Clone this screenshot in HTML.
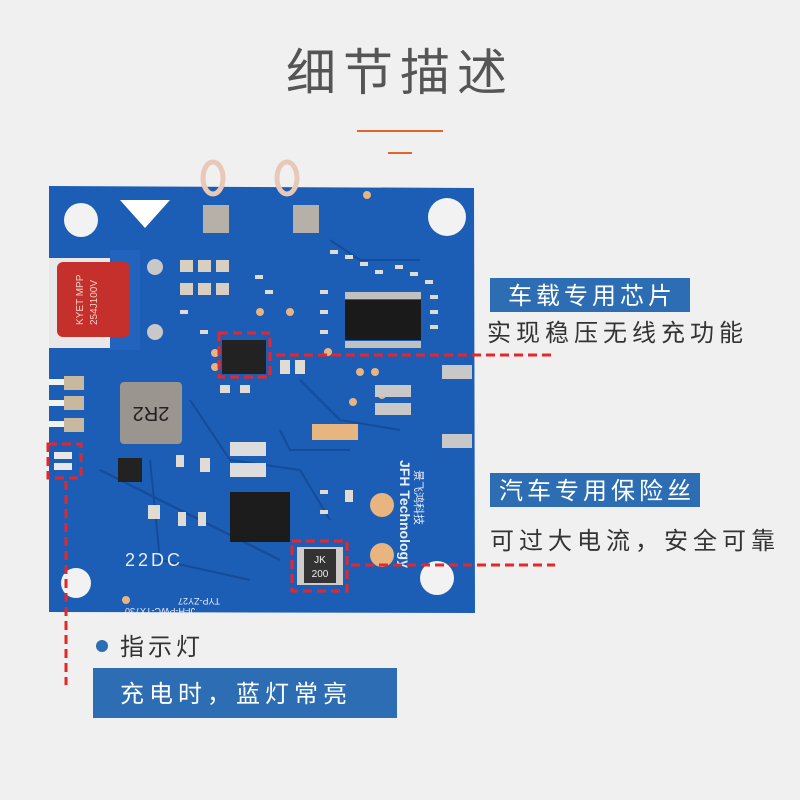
<!DOCTYPE html>
<html><head><meta charset="utf-8"><style>
body{margin:0;width:800px;height:800px;background:#f0f0f0;overflow:hidden;font-family:"Liberation Sans","Noto Sans CJK SC",sans-serif;}
svg{position:absolute;left:0;top:0}
</style></head><body>
<svg width="800" height="800" viewBox="0 0 800 800" xmlns="http://www.w3.org/2000/svg">
<rect width="800" height="800" fill="#f0f0f0"/>
<text x="400" y="90" text-anchor="middle" font-size="50" fill="#555" font-family="Noto Sans CJK SC, sans-serif" letter-spacing="7">细节描述</text>
<rect x="357" y="130" width="86" height="2" fill="#e0642c"/>
<rect x="388" y="152" width="24" height="2" fill="#e0642c"/>
<!-- board -->
<path d="M49 186 L474 188 L475 613 L49 612 L49 348 L138 348 L138 258 L49 258 Z" fill="#1c5db5"/>
<rect x="49" y="258" width="89" height="90" fill="#e8e8e8"/>
<rect x="110" y="250" width="30" height="100" fill="#2263bd"/>
<g stroke="#154c9a" stroke-width="2" fill="none">
<path d="M190 400 L230 460 L300 470 L330 520"/><path d="M300 380 L340 420 L400 430"/>
<path d="M330 240 L360 260 L420 260"/><path d="M100 470 L200 520 L280 560"/>
<path d="M280 430 L290 450 L350 450"/><path d="M150 460 L160 560 L250 580"/>
</g>
<!-- small components texture -->
<g fill="#e0dcd4">
<rect x="330" y="250" width="8" height="4"/><rect x="345" y="255" width="8" height="4"/><rect x="360" y="262" width="8" height="4"/><rect x="375" y="270" width="8" height="4"/><rect x="395" y="265" width="8" height="4"/><rect x="410" y="272" width="8" height="4"/><rect x="425" y="280" width="8" height="4"/><rect x="430" y="295" width="8" height="4"/><rect x="430" y="310" width="8" height="4"/><rect x="430" y="325" width="8" height="4"/><rect x="320" y="290" width="8" height="4"/><rect x="320" y="310" width="8" height="4"/><rect x="320" y="330" width="8" height="4"/>
<rect x="255" y="275" width="8" height="4"/><rect x="265" y="290" width="8" height="4"/><rect x="200" y="330" width="8" height="4"/><rect x="180" y="310" width="8" height="4"/>
<rect x="280" y="360" width="10" height="14"/><rect x="295" y="360" width="10" height="14"/><rect x="220" y="385" width="10" height="8"/><rect x="240" y="385" width="10" height="8"/>
<rect x="176" y="455" width="8" height="12"/><rect x="200" y="458" width="10" height="14"/><rect x="148" y="505" width="12" height="14"/><rect x="178" y="512" width="8" height="14"/><rect x="198" y="512" width="8" height="14"/>
<rect x="320" y="490" width="8" height="4"/><rect x="320" y="510" width="8" height="4"/><rect x="345" y="490" width="8" height="12"/>
</g>
<g fill="#e8b480"><circle cx="260" cy="312" r="4"/><circle cx="290" cy="312" r="4"/><circle cx="328" cy="352" r="4"/><circle cx="360" cy="372" r="4"/><circle cx="375" cy="372" r="4"/><circle cx="353" cy="402" r="4"/><circle cx="382" cy="395" r="4"/><circle cx="215" cy="353" r="4"/><circle cx="215" cy="367" r="4"/><circle cx="126" cy="600" r="4"/><circle cx="367" cy="195" r="4"/></g>
<!-- holes -->
<circle cx="81" cy="220" r="17" fill="#f2f2f2"/><circle cx="447" cy="217" r="19" fill="#f2f2f2"/>
<circle cx="76" cy="583" r="15" fill="#f2f2f2"/><circle cx="437" cy="578" r="17" fill="#f2f2f2"/>
<path d="M120 200 L170 200 L145 228 Z" fill="#fff"/>
<ellipse cx="213" cy="178" rx="10" ry="16" fill="none" stroke="#e8c8b8" stroke-width="5"/>
<ellipse cx="287" cy="178" rx="10" ry="16" fill="none" stroke="#e8c8b8" stroke-width="5"/>
<rect x="203" y="205" width="26" height="28" fill="#b5b0a8"/><rect x="293" y="205" width="26" height="28" fill="#b5b0a8"/>
<rect x="57" y="262" width="73" height="75" rx="6" fill="#c5302c"/>
<text x="0" y="0" transform="translate(83 325) rotate(-90)" font-size="10" fill="#f5d0c8">KYET MPP</text>
<text x="0" y="0" transform="translate(97 325) rotate(-90)" font-size="10" fill="#f5d0c8">254J100V</text>
<circle cx="155" cy="267" r="8" fill="#c8c8c8"/><circle cx="155" cy="332" r="8" fill="#c8c8c8"/>
<g fill="#d8cfc0"><rect x="180" y="260" width="13" height="12"/><rect x="198" y="260" width="13" height="12"/><rect x="216" y="260" width="13" height="12"/>
<rect x="180" y="283" width="13" height="12"/><rect x="198" y="283" width="13" height="12"/><rect x="216" y="283" width="13" height="12"/></g>
<rect x="345" y="300" width="76" height="40" fill="#1a1a1a"/>
<g fill="#c0c0c0"><rect x="345" y="292" width="76" height="7"/><rect x="345" y="341" width="76" height="7"/></g>
<rect x="222" y="340" width="44" height="34" fill="#222"/>
<rect x="120" y="382" width="62" height="62" rx="4" fill="#9a958e"/>
<text x="151" y="421" text-anchor="middle" font-size="20" fill="#222" transform="rotate(180 151 414)">2R2</text>
<g fill="#c9b8a0"><rect x="64" y="376" width="20" height="14"/><rect x="64" y="396" width="20" height="14"/><rect x="64" y="418" width="20" height="14"/></g>
<g fill="#f2f2f2"><rect x="49" y="379" width="15" height="6"/><rect x="49" y="400" width="15" height="6"/><rect x="49" y="421" width="15" height="6"/></g>
<rect x="54" y="452" width="18" height="7" fill="#e8e8e8"/><rect x="54" y="463" width="18" height="7" fill="#e8e8e8"/>
<rect x="118" y="458" width="24" height="24" fill="#222"/>
<rect x="230" y="492" width="60" height="50" fill="#1c1c1c"/>
<rect x="230" y="442" width="36" height="14" fill="#ddd"/><rect x="230" y="463" width="36" height="14" fill="#ddd"/>
<g fill="#e8b480"><rect x="312" y="424" width="46" height="16"/><circle cx="382" cy="505" r="12"/><circle cx="382" cy="555" r="12"/></g>
<g fill="#c8c8c8"><rect x="442" y="365" width="30" height="14"/><rect x="442" y="434" width="30" height="14"/><rect x="375" y="385" width="36" height="12"/><rect x="375" y="403" width="36" height="12"/></g>
<rect x="297" y="547" width="46" height="38" fill="#d0ccc8"/><rect x="304" y="549" width="32" height="34" fill="#333"/>
<text x="320" y="563" text-anchor="middle" font-size="10" fill="#eee">JK</text><text x="320" y="577" text-anchor="middle" font-size="10" fill="#eee">200</text>
<text x="125" y="566" font-size="18" fill="#e8eef8" letter-spacing="3">22DC</text>
<text x="0" y="0" transform="translate(220 598) rotate(180)" font-size="9" fill="#e8eef8">TYP-ZY27</text>
<text x="0" y="0" transform="translate(195 608) rotate(180)" font-size="9" fill="#e8eef8">JFH-PWC-TX730</text>
<text x="0" y="0" transform="translate(400 460) rotate(90)" font-size="14" fill="#e8eef8" font-weight="bold">JFH Technology</text>
<text x="0" y="0" transform="translate(415 470) rotate(90)" font-size="11" fill="#e8eef8">景飞鸿科技</text>
<g stroke="#e8262a" stroke-width="3" stroke-dasharray="9 5" fill="none">
<rect x="219" y="333" width="51" height="44"/><path d="M276 355 H555"/>
<rect x="292" y="541" width="55" height="50"/><path d="M351 565 H555"/>
<rect x="48" y="444" width="33" height="34"/><path d="M66 481 V685"/>
</g>
<rect x="490" y="278" width="200" height="34" fill="#2c6db3"/>
<text x="592" y="304" text-anchor="middle" font-size="24" fill="#fff" letter-spacing="4">车载专用芯片</text>
<text x="487" y="341" font-size="24" fill="#333" letter-spacing="5">实现稳压无线充功能</text>
<rect x="490" y="473" width="210" height="34" fill="#2c6db3"/>
<text x="597" y="499" text-anchor="middle" font-size="24" fill="#fff" letter-spacing="4">汽车专用保险丝</text>
<text x="490" y="549" font-size="24" fill="#333" letter-spacing="5">可过大电流，安全可靠</text>
<circle cx="102" cy="646" r="6" fill="#2c6db3"/>
<text x="120" y="655" font-size="24" fill="#333" letter-spacing="4">指示灯</text>
<rect x="93" y="668" width="304" height="50" fill="#2c6db3"/>
<text x="120" y="702" font-size="24" fill="#fff" letter-spacing="5">充电时，蓝灯常亮</text>
</svg>
</body></html>
